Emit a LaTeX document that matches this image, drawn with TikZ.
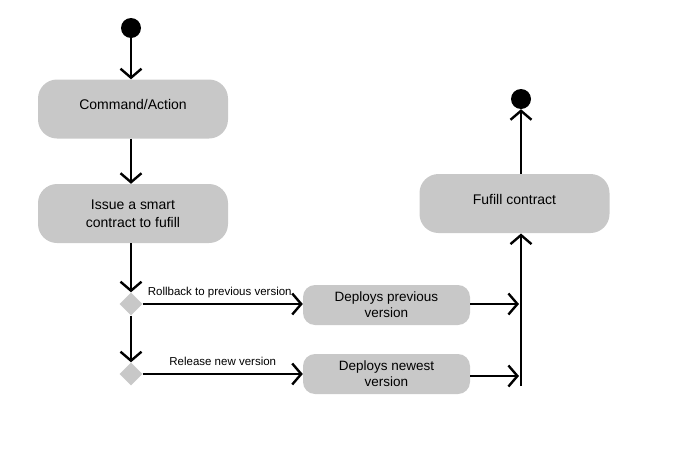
\documentclass[tikz,border=0pt]{standalone}
\usepackage{fontspec}
\setmainfont{Liberation Sans}
\usetikzlibrary{arrows.meta,shapes.geometric}
\definecolor{boxgray}{RGB}{200,200,200}
\begin{document}
\begin{tikzpicture}[x=1pt,y=-1pt,
  act/.style={draw=none,fill=boxgray,rounded corners=19pt,minimum width=190pt,minimum height=59pt,align=center,font=\fontsize{14}{18}\selectfont,inner sep=0pt},
  small/.style={draw=none,fill=boxgray,rounded corners=12pt,minimum width=167pt,minimum height=40pt,align=center,font=\fontsize{13.5}{16}\selectfont,inner sep=0pt},
  dot/.style={circle,fill=black,minimum size=20pt,inner sep=0pt},
  dec/.style={diamond,fill=boxgray,minimum size=23pt,inner sep=0pt},
  flow/.style={line width=2.4pt,-{Straight Barb[length=9pt,width=21pt,line width=2.4pt]}},
  lbl/.style={font=\fontsize{11.5}{13}\selectfont,inner sep=1pt}]
\useasboundingbox (0,0) rectangle (673,469);
\node[dot] (start) at (131,28) {};
\node[act] (cmd) at (133,109) {\raisebox{10pt}{Command/Action}};
\node[act] (issue) at (133,213.5) {Issue a smart\\contract to fufill};
\node[dec] (d1) at (131,304) {};
\node[dec] (d2) at (131,374) {};
\node[small] (prev) at (386.5,305) {Deploys previous\\version};
\node[small] (new) at (386.5,374) {Deploys newest\\version};
\node[act] (ful) at (514.5,203.5) {\raisebox{9pt}{Fufill contract}};
\node[dot] (end) at (521,99) {};
\coordinate (jbot) at (521,386);
\coordinate (jtop) at (521,233.5);
\coordinate (in1) at (519,304);
\coordinate (in2) at (519,376);

\draw[flow] (start) -- (start|-cmd.north);
\draw[flow] (cmd.south-|start) -- (issue.north-|start);
\draw[flow] (issue.south-|start) -- (d1.north);
\draw[flow] (d1.east) -- node[lbl,above=4pt,xshift=-3pt]{Rollback to previous version} (d1.east-|prev.west);
\draw[flow] (d1.south) -- (d2.north);
\draw[flow] (d2.east) -- node[lbl,above=6pt]{Release new version} (d2.east-|new.west);
\draw[flow] (prev.east|-in1) -- (in1);
\draw[flow] (new.east|-in2) -- (in2);
\draw[flow] (jbot) -- (jtop);
\draw[flow] (ful.north-|end) -- (end.south);
\end{tikzpicture}
\end{document}
